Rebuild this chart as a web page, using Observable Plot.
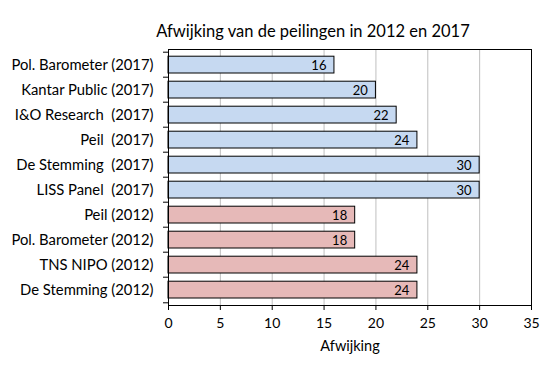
<!DOCTYPE html>
<html>
<head>
<meta charset="utf-8">
<script src="https://cdn.jsdelivr.net/npm/d3@7"></script>
<script src="https://cdn.jsdelivr.net/npm/@observablehq/plot@0.6"></script>
<style>
  body { margin: 0; background: #fff; }
  svg { font-family: Lato, "Open Sans", sans-serif; }
</style>
</head>
<body>
<div id="chart"></div>
<script>
const titleText = "Afwijking van de peilingen in 2012 en 2017";
const xLabel = "Afwijking";
const categories = [
  "Pol. Barometer (2017)",
  "Kantar Public (2017)",
  "I&O Research  (2017)",
  "Peil  (2017)",
  "De Stemming  (2017)",
  "LISS Panel  (2017)",
  "Peil (2012)",
  "Pol. Barometer (2012)",
  "TNS NIPO (2012)",
  "De Stemming (2012)"
];
const values = [16, 20, 22, 24, 30, 30, 18, 18, 24, 24];
const years = ["2017", "2017", "2017", "2017", "2017", "2017", "2012", "2012", "2012", "2012"];
const xTicks = [0, 5, 10, 15, 20, 25, 30, 35];
const gridTicks = [5, 10, 15, 20, 25, 30];

const data = categories.map((c, i) => ({name: c, value: values[i], year: years[i]}));

const W = 554, H = 376;
const mTop = 49, mBottom = 71, mLeft = 168, mRight = 23;
const band = (H - mTop - mBottom) / categories.length;

const chart = Plot.plot({
  width: W,
  height: H,
  marginTop: mTop,
  marginBottom: mBottom,
  marginLeft: mLeft,
  marginRight: mRight,
  style: {fontFamily: "Lato, sans-serif", fontSize: "13px", color: "#000", background: "#fff"},
  x: {domain: [0, 35], axis: null},
  y: {domain: categories, padding: 0, axis: null},
  color: {domain: ["2017", "2012"], range: ["#c6d9f1", "#e6b9b8"]},
  marks: [
    Plot.ruleX(gridTicks, {stroke: "#bfbfbf", strokeWidth: 1}),
    Plot.barX(data, {x: "value", y: "name", fill: "year", stroke: "#000", strokeWidth: 1, insetTop: 4.2, insetBottom: 4}),
    Plot.text(data, {x: "value", y: "name", text: d => String(d.value), textAnchor: "end", dx: -8, dy: 1, fill: "#000", fontSize: 13}),
    Plot.frame({stroke: "#000", strokeWidth: 1}),
    Plot.axisY({tickSize: 0, tickPadding: 15, fontSize: 14.8, fill: "#000", label: null}),
    Plot.axisY({tickSize: 5, tickFormat: () => "", dy: -band / 2, stroke: "#000", label: null}),
    Plot.axisY({ticks: [categories[categories.length - 1]], tickSize: 5, tickFormat: () => "", dy: band / 2, stroke: "#000", label: null}),
    Plot.axisX({ticks: xTicks, tickSize: 5, tickPadding: 8, fontSize: 14, fill: "#000", stroke: "#000", label: null}),
    Plot.text([xLabel], {frameAnchor: "bottom", dy: 45, fontSize: 14.5, fill: "#000"}),
    Plot.text([titleText], {frameAnchor: "top", dx: -37, dy: -24, fontSize: 16.5, fill: "#000"})
  ]
});
document.getElementById("chart").appendChild(chart);
</script>
</body>
</html>
